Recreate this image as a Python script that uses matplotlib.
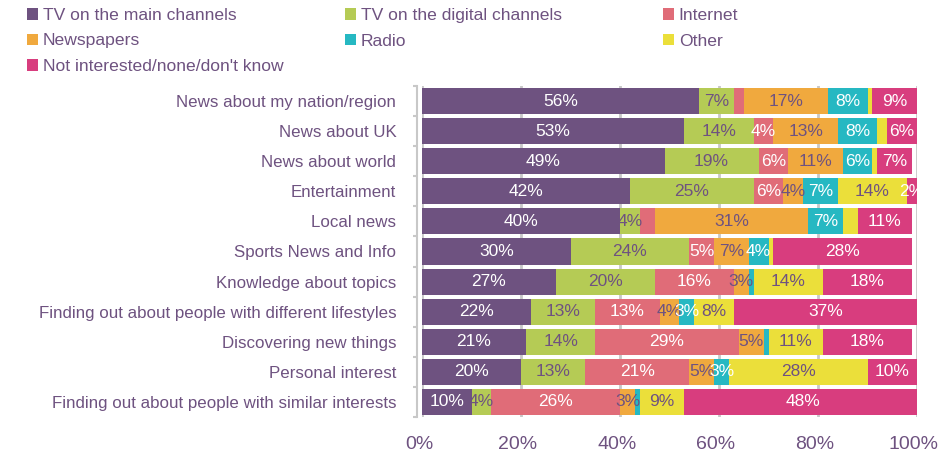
import matplotlib
matplotlib.use("Agg")
import matplotlib.pyplot as plt
import matplotlib.transforms as mtransforms
from matplotlib.patches import Patch
import numpy as np

plt.rcParams['font.family'] = ['Liberation Sans', 'DejaVu Sans']

categories = [
    "News about my nation/region",
    "News about UK",
    "News about world",
    "Entertainment",
    "Local news",
    "Sports News and Info",
    "Knowledge about topics",
    "Finding out about people with different lifestyles",
    "Discovering new things",
    "Personal interest",
    "Finding out about people with similar interests",
]

series_names = [
    "TV on the main channels",
    "TV on the digital channels",
    "Internet",
    "Newspapers",
    "Radio",
    "Other",
    "Not interested/none/don't know",
]

tv_main     = [56, 53, 49, 42, 40, 30, 27, 22, 21, 20, 10]
tv_digital  = [7, 14, 19, 25, 4, 24, 20, 13, 14, 13, 4]
internet    = [2, 4, 6, 6, 3, 5, 16, 13, 29, 21, 26]
newspapers  = [17, 13, 11, 4, 31, 7, 3, 4, 5, 5, 3]
radio       = [8, 8, 6, 7, 7, 4, 1, 3, 1, 3, 1]
other       = [1, 2, 1, 14, 3, 1, 14, 8, 11, 28, 9]
not_int     = [9, 6, 7, 2, 11, 28, 18, 37, 18, 10, 48]

# (row, series) cells whose value label is not shown in the reference
hidden_labels = [(0, 2), (0, 5), (1, 5), (2, 5), (4, 2), (4, 5), (5, 5),
                 (6, 4), (8, 4), (10, 4)]

x_ticks = [0, 20, 40, 60, 80, 100]
x_tick_labels = ["0%", "20%", "40%", "60%", "80%", "100%"]

colors = ["#6E5280", "#B5CB55", "#E06C78", "#F0A93E", "#26B8C2", "#EBDF3A", "#D83D7E"]
label_colors = ["white", "#6E5280", "white", "#6E5280", "white", "#6E5280", "white"]
text_color = "#6E5280"
grid_color = "#C8C8C8"

data = [tv_main, tv_digital, internet, newspapers, radio, other, not_int]

fig = plt.figure(figsize=(9.48, 4.59), dpi=100)
ax = fig.add_axes([422 / 948, 1 - 417 / 459, 495 / 948, 331 / 459])

y = np.arange(len(categories))
left = np.zeros(len(categories))
for si, (name, vals) in enumerate(zip(series_names, data)):
    vals = np.array(vals, dtype=float)
    ax.barh(y, vals, left=left, height=0.865, color=colors[si],
            label=name, zorder=3)
    for ri, (v, l) in enumerate(zip(vals, left)):
        if (ri, si) in hidden_labels:
            continue
        ax.text(l + v / 2, ri, f"{int(v)}%", ha="center", va="center",
                color=label_colors[si], fontsize=12.5, zorder=4)
    left += vals

ax.set_xlim(0, 100)
ax.set_ylim(len(categories) - 0.5, -0.5)
ax.set_xticks(x_ticks)
ax.set_xticklabels(x_tick_labels)
ax.set_yticks(y)
ax.set_yticklabels(categories)
ax.set_yticks(np.arange(-0.5, len(categories)), minor=True)
ax.tick_params(axis="x", length=0, pad=14, labelsize=14, labelcolor=text_color)
ax.tick_params(axis="y", which="major", length=0, pad=15, labelsize=12.2,
               labelcolor=text_color)
ax.tick_params(axis="y", which="minor", length=3, width=1.5, color=grid_color)

yoff = mtransforms.ScaledTranslation(0, 4.5 / 72, fig.dpi_scale_trans)
for lab in ax.get_yticklabels():
    lab.set_transform(lab.get_transform() + yoff)
xoff = mtransforms.ScaledTranslation(-2.2 / 72, 0, fig.dpi_scale_trans)
for lab in ax.get_xticklabels():
    lab.set_transform(lab.get_transform() + xoff)

ax.grid(axis="x", color=grid_color, linewidth=2, zorder=0)
ax.grid(axis="y", visible=False)
for s in ["top", "right", "bottom"]:
    ax.spines[s].set_visible(False)
ax.spines["left"].set_color(grid_color)
ax.spines["left"].set_linewidth(1.5)
ax.spines["left"].set_position(("outward", 3.5))

# legend laid out in three columns, row-major
col_x = [27 / 948, 345 / 948, 663 / 948]
cols = [[0, 3, 6], [1, 4], [2, 5]]
for cx, idxs in zip(col_x, cols):
    h = [Patch(facecolor=colors[i], edgecolor="none") for i in idxs]
    l = [series_names[i] for i in idxs]
    leg = fig.legend(h, l, loc="upper left", bbox_to_anchor=(cx, 1 - 8 / 459),
                     frameon=False, fontsize=12.6, handlelength=0.65,
                     handleheight=0.65, handletextpad=0.25, labelspacing=0.6,
                     borderaxespad=0, borderpad=0)
    for t in leg.get_texts():
        t.set_color(text_color)

fig.savefig("out.png", dpi=100)
